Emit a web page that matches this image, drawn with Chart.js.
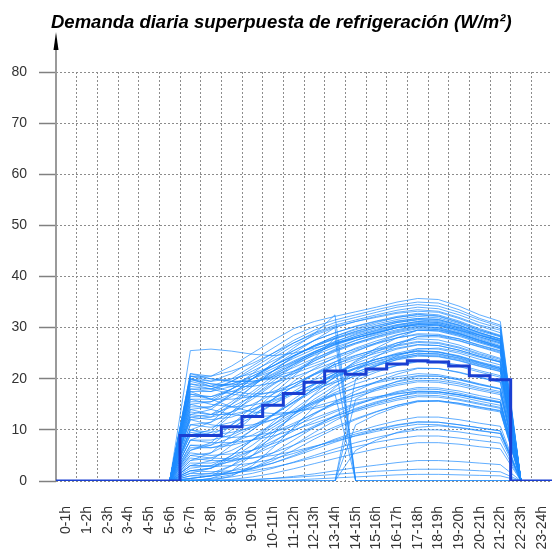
<!DOCTYPE html>
<html><head><meta charset="utf-8">
<script src="https://cdn.jsdelivr.net/npm/chart.js@4"></script>
<style>html,body{margin:0;padding:0;background:#fff;overflow:hidden}</style>
</head><body>
<canvas id="c" width="552" height="553"></canvas>
<script>
const titleText = 'Demanda diaria superpuesta de refrigeración (W/m²)';
const hours = ['0-1h','1-2h','2-3h','3-4h','4-5h','5-6h','6-7h','7-8h','8-9h','9-10h','10-11h','11-12h',
  '12-13h','13-14h','14-15h','15-16h','16-17h','17-18h','18-19h','19-20h','20-21h','21-22h','22-23h','23-24h'];
const yTicks = {min: 0, max: 80, step: 10};

// average demand (dark step line), one value per hour
const avgDemand = [0,0,0,0,0,0,8.9,8.9,10.6,12.6,14.8,17.1,19.3,21.5,20.9,21.9,22.9,23.5,23.3,22.5,20.6,19.8,0,0];

// daily curves, values for hours 6-7h ... 21-22h (other hours are 0)
const curvesHigh = [
  [20.5,20.5,22.5,25,27.5,29.8,31.2,32.2,33.1,34,35,35.7,35.5,34.2,32.5,31.2],
  [20,19.5,21,23.5,26,28.5,30.2,31.5,32.5,33.5,34.4,35,34.8,33.5,31.8,30.5],
  [19,18.5,20,22.5,25,27.5,29.5,31,32,33,34,34.5,34.2,33,31.5,30.2],
  [17.5,17.5,19.5,22,24.5,27,29,30.5,31.5,32.5,33.4,34,33.7,32.5,31,29.8],
  [15,15.5,18,21,24,26.5,28.5,30,31.2,32.2,33,33.5,33.2,32,30.5,29.5],
  [21,20.5,21.5,23,25,27,28.8,30.2,31.2,32,32.8,33.2,33,31.8,30.3,29],
  [13,14,17,20,23,25.5,27.5,29,30.3,31.3,32.2,32.8,32.5,31.3,29.8,28.5],
  [18,18,19.5,21.5,23.5,25.5,27.5,29,30.2,31.2,32,32.5,32.2,31,29.5,28.4],
  [10,11.5,15,18.5,21.5,24.5,26.5,28.3,29.6,30.7,31.6,32.2,31.9,30.8,29.3,28.2],
  [20.5,19.5,20,21,22.5,24.5,26.5,28,29.3,30.4,31.3,31.8,31.6,30.5,29,27.8],
  [16,16,18,20,22.5,24.5,26.3,27.8,29,30,31,31.5,31.2,30.2,28.8,27.5],
  [8,9.5,13,16.5,19.5,22.5,24.8,26.8,28.3,29.5,30.5,31.2,31,30,28.5,27.2],
  [19.5,18.5,19,20,21.5,23.3,25.3,27,28.3,29.4,30.4,31,30.8,29.7,28.2,27],
  [12,12.5,15,17.5,20.5,23,25,26.7,28,29.2,30.2,30.8,30.5,29.4,28,26.8],
  [14.5,14.5,16.5,18.8,21,23.2,25,26.6,27.9,29,30,30.6,30.3,29.2,27.8,26.5],
  [6,7.5,11,14.5,18,21,23.5,25.5,27,28.3,29.4,30.2,30,29,27.6,26.3],
  [17,16.5,17.5,19,20.8,22.8,24.6,26.2,27.5,28.6,29.6,30.3,30,28.9,27.5,26.2],
  [11,11.5,13.5,16,18.8,21.3,23.5,25.3,26.8,28,29,29.8,29.6,28.6,27.2,26],
  [20,19,18.8,19.2,20.5,22.2,24,25.6,27,28.2,29.2,30,29.8,28.8,27.4,26],
  [4,5.5,9,12.5,16,19.5,22,24.2,26,27.4,28.6,29.5,29.3,28.3,27,25.8],
  [25.5,25.8,25.4,24.8,24.5,25,26,27,28,29,30,30.5,30.5,29.5,28.5,27.5],
  [15.5,15.5,17,19.2,21.5,23.5,25.3,26.8,28,29,30,30.6,30.5,29.5,28.2,27],
  [12.5,13,15.5,18.5,21.5,24.3,26.5,28.3,29.8,31,32,32.6,32.3,31.1,29.6,28.3],
  [18.5,18,19,20.5,22.5,24.5,26.3,27.9,29.2,30.3,31.2,31.8,31.6,30.5,29,27.8],
  [9,10,13.5,17,20,22.8,25.2,27.2,28.8,30,31,31.6,31.4,30.4,29,27.7],
  [16.5,16.5,18,20,22,24,25.8,27.3,28.6,29.7,30.6,31.2,31,30,28.6,27.4],
  [13.5,13,14.5,16.5,19,21.5,23.8,25.8,27.5,28.8,30,30.8,30.7,29.8,28.5,27.3],
  [12.5,12,12.5,14,16,18.5,21,23.3,25.3,27,28.5,29.5,29.4,28.5,27.2,26]
];
const curvesMid = [
  [9,9,11,13.5,16,18.5,20.8,22.8,24.5,25.8,27,27.8,27.6,26.6,25.2,24],
  [19.8,19,18.5,18.5,19.2,20.3,21.8,23.3,24.6,25.7,26.6,27.3,27.1,26.2,24.9,23.8],
  [3,4,7,10,13,16,18.8,21,23,24.5,25.8,26.6,26.5,25.6,24.4,23.3],
  [13,12.5,13.5,15,17,19,21,22.8,24.2,25.4,26.4,27.1,26.9,26,24.7,23.5],
  [7,7,8.5,10.5,13,15.5,18,20.3,22.2,23.8,25,25.9,25.8,25,23.8,22.7],
  [17,16,16,16.5,17.5,19,20.8,22.4,23.8,25,26,26.7,26.5,25.6,24.4,23.2],
  [1.5,2.5,5,8,11,14,16.8,19.2,21.2,22.8,24.1,25,24.9,24.1,23,22],
  [11,10.5,11.5,13,15,17,19,21,22.6,23.8,24.8,25.5,25.3,24.5,23.3,22.3],
  [20,18.5,17.5,17,17.3,18.3,19.8,21.3,22.6,23.8,24.8,25.4,25.2,24.3,23.1,22],
  [5,5.5,7.5,10,12.8,15.5,18,20.2,22,23.4,24.6,25.4,25.2,24.4,23.2,22.1],
  [14,13,13,14,15.5,17.2,19,20.7,22.1,23.3,24.3,25,24.8,24,22.8,21.8],
  [0.5,1,3,6,9.5,13,16,18.6,20.8,22.5,23.8,24.7,24.6,23.8,22.7,21.7],
  [8,8,9,10.8,13,15.3,17.6,19.6,21.3,22.6,23.7,24.4,24.3,23.5,22.4,21.4],
  [16,15,14.5,14.8,15.8,17.2,18.9,20.5,21.9,23,24,24.6,24.4,23.6,22.5,21.5],
  [20.5,20,19.5,19.5,20,21,22.5,24,25.5,26.8,28,28.8,28.7,27.8,26.5,25.4],
  [0,0.5,2,5,9,13,17,20.5,23.5,26,28,29.5,29.6,28.8,27.5,26.3],
  [0,0,1,3,6.5,10.5,14.5,18.3,21.5,24.3,26.6,28.3,28.5,27.8,26.6,25.5],
  [2.5,3,5,8,11.5,15,18.2,21,23.3,25.3,27,28.2,28.2,27.4,26.2,25],
  [21,20,19.5,19.5,20.3,21.5,23,24.5,25.8,27,28,28.6,28.4,27.5,26.3,25.2]
];
const curvesLow = [
  [4,4.5,6,8,10.5,13,15.3,17.3,19,20.3,21.4,22.1,22,21.2,20.2,19.3],
  [12,11,10.5,11,12,13.5,15.2,16.8,18.2,19.4,20.4,21,20.8,20,19,18.1],
  [2,2.5,4,6,8.5,11,13.3,15.3,17,18.3,19.4,20.1,20,19.3,18.3,17.5],
  [7,6.5,7,8,9.5,11.3,13.2,15,16.5,17.7,18.7,19.4,19.3,18.6,17.7,16.9],
  [0.5,1,2,3.5,5.5,8,10.5,12.8,14.8,16.3,17.5,18.3,18.2,17.6,16.7,15.9],
  [10,9,8.5,8.8,9.5,10.8,12.3,13.8,15.2,16.3,17.3,18,17.9,17.2,16.3,15.5],
  [3,3,3.8,5,6.8,8.8,10.8,12.6,14.2,15.5,16.5,17.2,17.1,16.5,15.6,14.8],
  [5.5,5,5.3,6,7.3,8.8,10.5,12.2,13.6,14.8,15.8,16.5,16.4,15.8,15,14.2],
  [1,1,1.5,2.5,4,6,8.2,10.2,12,13.5,14.8,15.6,15.6,15,14.2,13.5],
  [8,7.5,7.5,8,8.8,10,11.3,12.7,14,15.1,16.1,16.8,16.7,16,15.2,14.4],
  [19,18,17,16.5,16.5,17,18,19.3,20.5,21.6,22.6,23.3,23.2,22.4,21.3,20.3],
  [15,14,13,12.5,12.8,13.5,14.5,15.7,16.9,18,19,19.7,19.6,19,18,17.2],
  [6.5,6.5,7.5,9,11,13.3,15.6,17.8,19.7,21.3,22.6,23.5,23.4,22.7,21.6,20.6],
  [1,1.5,3,5,7.5,10.3,13,15.5,17.6,19.4,20.9,22,22,21.3,20.3,19.4],
  [9.5,9,9.5,10.5,12,13.8,15.5,17,18.2,19.2,20,20.6,20.5,19.8,18.9,18],
  [17.5,16,14.5,13.5,13.2,13.5,14.2,15,15.8,16.5,17.1,17.5,17.4,16.8,16,15.3],
  [0,0.5,1.2,2.5,4.5,7,9.5,11.8,13.8,15.3,16.5,17.4,17.4,16.9,16.1,15.4],
  [3.5,3.5,4.5,6,7.8,9.8,11.8,13.5,15,16.1,17,17.6,17.5,16.9,16.1,15.3]
];
const curvesMinimal = [
  [0.5,1,1.5,2.3,3.5,5,6.6,8.2,9.6,10.8,11.8,12.5,12.5,12,11.3,10.7],
  [3,2.8,3,3.5,4.3,5.4,6.7,8,9.2,10.2,11,11.6,11.5,11,10.4,9.8],
  [0,0.3,0.8,1.5,2.5,3.7,5,6.3,7.5,8.5,9.4,10,10,9.6,9,8.5],
  [1.5,1.4,1.6,2,2.7,3.6,4.6,5.7,6.7,7.6,8.3,8.8,8.8,8.4,7.9,7.4],
  [0,0,0.3,0.8,1.5,2.4,3.4,4.4,5.4,6.3,7,7.5,7.5,7.2,6.7,6.3],
  [5,4.5,4.3,4.5,5,5.8,6.8,7.8,8.8,9.7,10.5,11.1,11,10.5,9.9,9.3],
  [4.5,4,4,4.5,5.5,7,8.8,10.6,12.2,13.6,14.8,15.7,15.7,15.2,14.4,13.7],
  [2,1.8,2,2.6,3.5,4.8,6.2,7.6,8.9,10,10.9,11.5,11.5,11,10.4,9.8],
  [0,0,0,0.2,0.5,0.9,1.4,2,2.6,3.1,3.6,4,4,3.8,3.5,3.2],
  [0.3,0.2,0.2,0.3,0.5,0.7,1,1.3,1.6,1.9,2.1,2.3,2.3,2.2,2,1.8],
  [0,0,0,0,0.1,0.2,0.4,0.6,0.8,1,1.2,1.3,1.3,1.2,1.1,1]
];
const curvesMorning = [
  [14,14.5,17,20,23,26,28.8,32.5,0,0,0,0,0,0,0,0],
  [18,17.5,18.5,20.5,22.5,25,27.5,30,0,0,0,0,0,0,0,0],
  [6,7,10,13.5,17,20.5,24,28,0,0,0,0,0,0,0,0],
  [10,9.5,10.5,12.5,15,17.5,20,23,0,0,0,0,0,0,0,0],
  [2,2.5,4.5,7,10,12.5,15,17,0,0,0,0,0,0,0,0]
];
const curvesAfternoon = [
  [0,0,0,0,0,0,0,0,16,18,19.5,20.5,20.5,19.8,18.8,18],
  [0,0,0,0,0,0,0,0,11,13,14.5,15.5,15.7,15.2,14.5,13.8],
  [0,0,0,0,0,0,0,0,20,22.5,24.5,25.8,26,25.3,24.2,23.3],
  [0,0,0,0,0,0,0,0,6,8,9.5,10.5,10.8,10.4,9.8,9.3]
];

const FONT = '"Liberation Sans", Arial, sans-serif';
const padDay = v => [0,0,0,0,0,0].concat(v, [0,0]);
const allCurves = [].concat(curvesHigh, curvesMid, curvesLow, curvesMinimal, curvesMorning, curvesAfternoon);

const lightSets = allCurves.map(c => ({
  data: padDay(c), xAxisID: 'x', yAxisID: 'y',
  borderColor: 'rgba(30,140,255,0.7)', borderWidth: 1,
  pointRadius: 0, tension: 0, order: 2
}));
const stepPoints = avgDemand.map((v, i) => ({x: i, y: v}));
stepPoints.push({x: avgDemand.length, y: avgDemand[avgDemand.length - 1]});
const stepSet = {
  data: stepPoints, xAxisID: 'x2', yAxisID: 'y',
  stepped: true, borderColor: '#1a3fd2', borderWidth: 3,
  pointRadius: 0, order: 1
};

const deco = {
  id: 'deco',
  beforeDatasetsDraw(chart) {
    const {ctx, chartArea: a} = chart;
    ctx.save();
    ctx.strokeStyle = '#9a9a9a';
    ctx.lineWidth = 2;
    ctx.beginPath();
    ctx.moveTo(a.left, 48);
    ctx.lineTo(a.left, a.bottom);
    ctx.stroke();
    ctx.fillStyle = '#000';
    ctx.beginPath();
    ctx.moveTo(a.left, 32);
    ctx.lineTo(a.left - 2.5, 50);
    ctx.lineTo(a.left + 2.5, 50);
    ctx.closePath();
    ctx.fill();
    ctx.restore();
  },
  afterDraw(chart) {
    const ctx = chart.ctx;
    ctx.save();
    ctx.font = 'italic bold 18.5px ' + FONT;
    ctx.fillStyle = '#000';
    ctx.textBaseline = 'alphabetic';
    ctx.textAlign = 'left';
    ctx.fillText(titleText, 51, 28);
    ctx.restore();
  }
};

new Chart(document.getElementById('c'), {
  type: 'line',
  data: {labels: hours, datasets: [stepSet].concat(lightSets)},
  options: {
    responsive: false,
    animation: false,
    layout: {padding: {top: 72, left: 0, right: 0, bottom: 0}},
    plugins: {legend: {display: false}, tooltip: {enabled: false}, title: {display: false}},
    scales: {
      x: {
        type: 'category', offset: true, position: 'bottom',
        grid: {offset: true, color: '#8c8c8c', lineWidth: 1, drawTicks: true, tickLength: 25, tickColor: 'rgba(0,0,0,0)'},
        border: {display: false, dash: [2, 2]},
        ticks: {autoSkip: false, minRotation: 90, maxRotation: 90, padding: 0, color: '#333',
                font: {family: FONT, size: 14}},
        afterFit(s) { s.height = 72; s.paddingLeft = 0; s.paddingRight = 0; }
      },
      x2: {type: 'linear', min: 0, max: hours.length, display: false, position: 'bottom'},
      y: {
        min: yTicks.min, max: yTicks.max,
        ticks: {stepSize: yTicks.step, padding: 12, color: '#333', font: {family: FONT, size: 14}},
        grid: {color: '#8c8c8c', lineWidth: 1, tickColor: '#808080', tickLength: 17, tickWidth: 1.5, tickBorderDash: []},
        border: {display: false, dash: [2, 2]},
        afterFit(s) { s.width = 56; }
      }
    }
  },
  plugins: [deco]
});
</script>
</body></html>
